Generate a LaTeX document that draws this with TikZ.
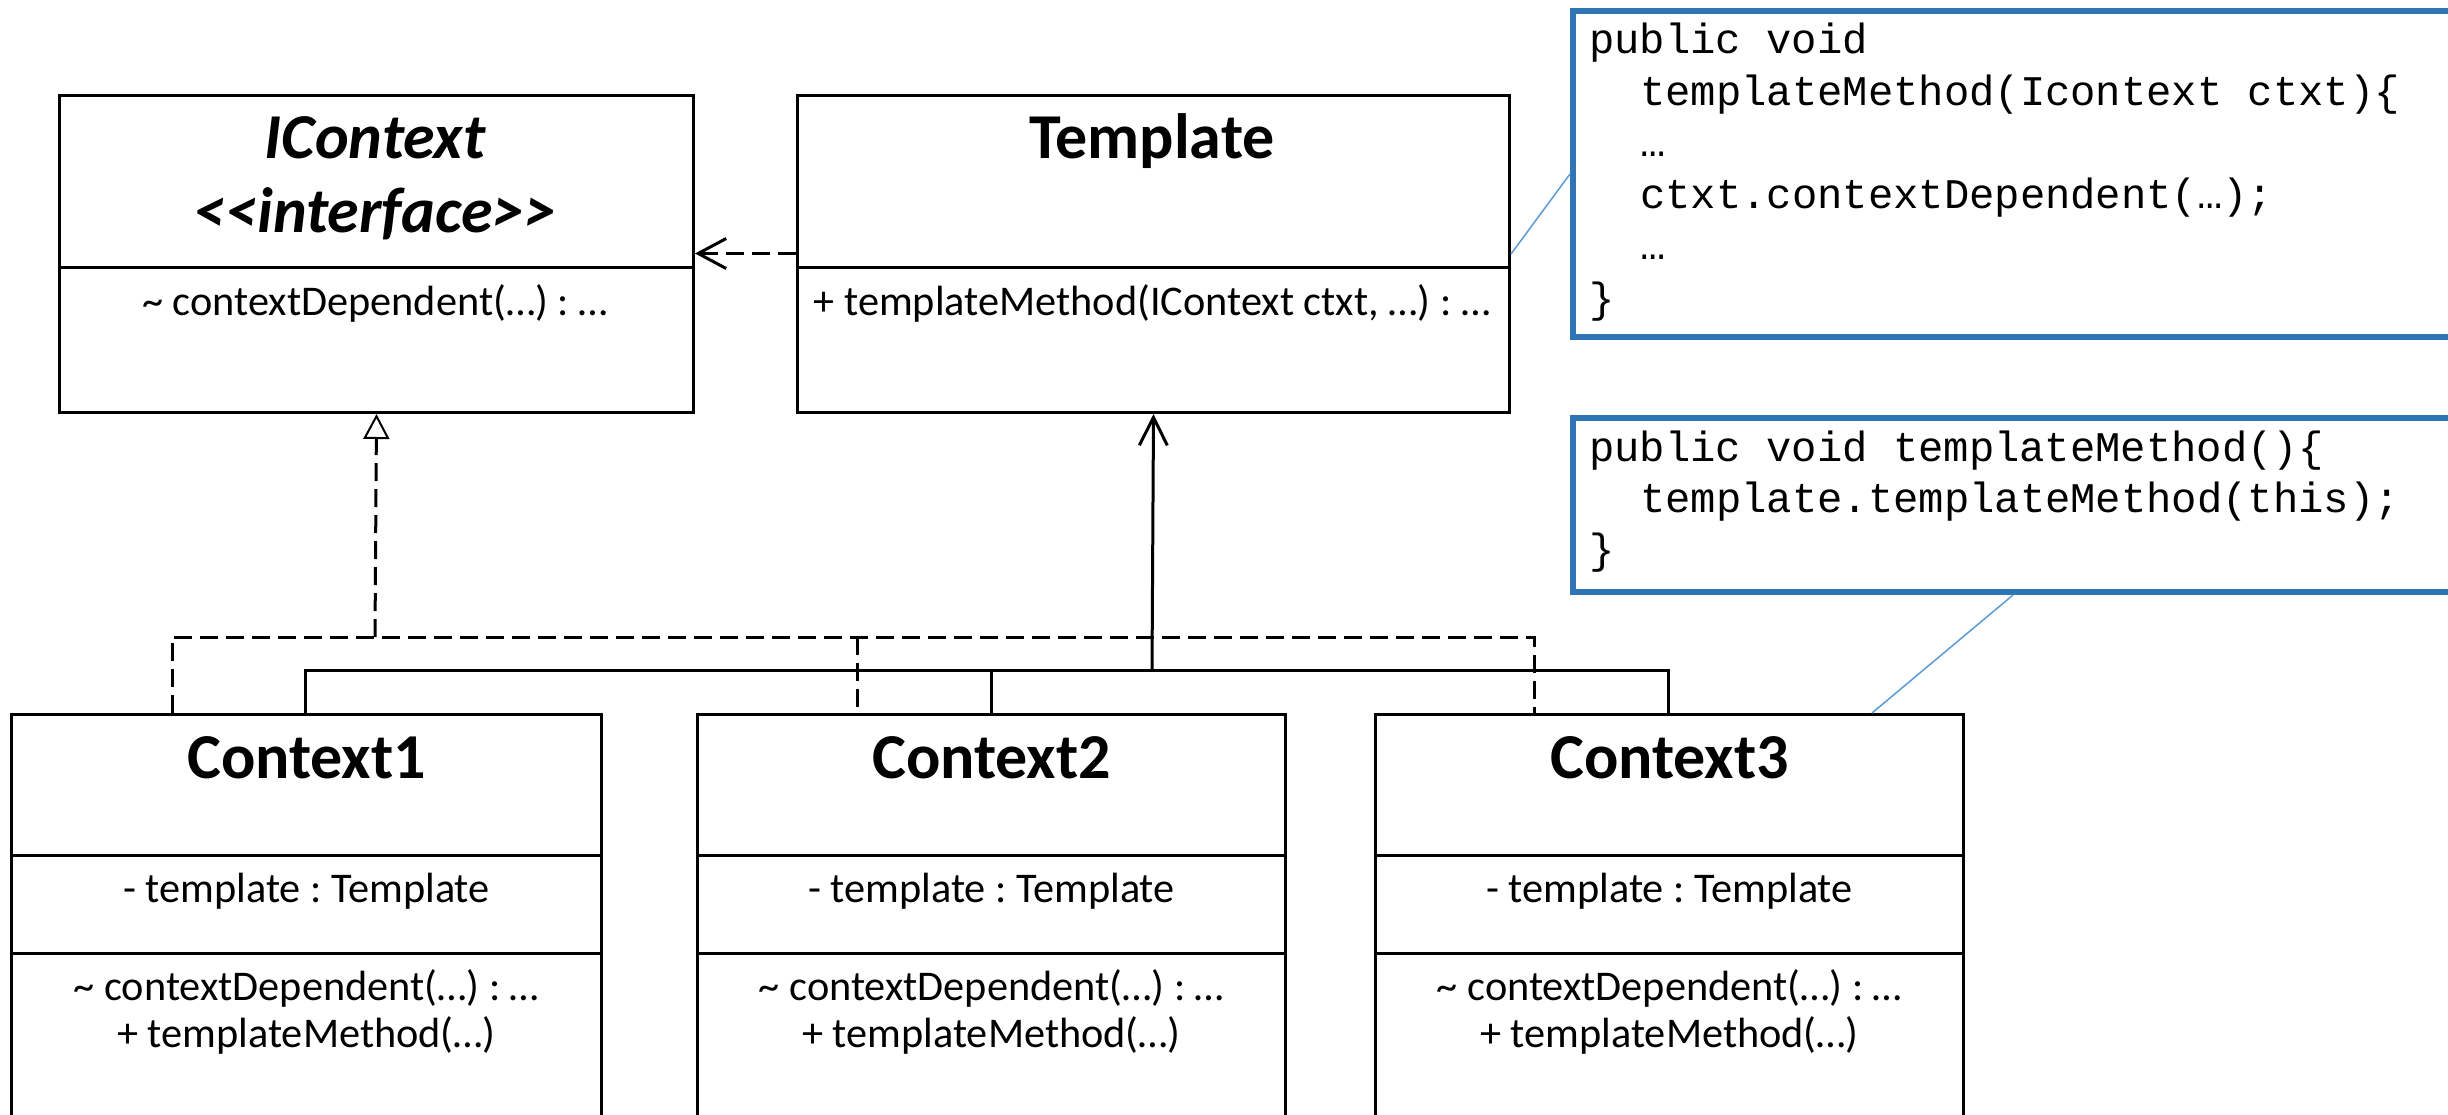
\documentclass[tikz,border=0pt]{standalone}
\usepackage{fontspec}
\setmainfont{Carlito}
\newfontfamily\codefont{Liberation Mono}
\usetikzlibrary{arrows.meta}
\definecolor{boxblue}{HTML}{2E75B6}
\definecolor{callblue}{HTML}{5B9BD5}
\frenchspacing
\begin{document}
\begin{tikzpicture}[x=1pt,y=-1pt,
  box/.style={draw, line width=3pt, rectangle, inner sep=0pt, anchor=north west},
  titletext/.style={anchor=base, inner sep=0pt, font=\fontsize{64}{72}\selectfont\bfseries},
  member/.style={anchor=base, inner sep=0pt, font=\fontsize{42.3}{48}\selectfont},
  codeline/.style={anchor=base west, inner sep=0pt, font=\fontsize{42.2}{50}\selectfont\codefont},
  codebox/.style={draw=boxblue, line width=6pt, rectangle, inner sep=0pt, anchor=north west, fill=white},
  callout/.style={draw=callblue, line width=1.5pt},
  conn/.style={line width=3pt},
  dashconn/.style={dash pattern=on 18pt off 8pt},
]
\clip (0,0) rectangle (2448,1115);
\fill[white] (0,0) rectangle (2448,1115);

% class boxes
\node[box, minimum width=634pt, minimum height=317pt] (ic) at (58,94) {};
\node[box, minimum width=712pt, minimum height=317pt] (tpl) at (796,94) {};
\draw[conn] (ic.west |- 0,268) -- (ic.east |- 0,268);
\draw[conn] (tpl.west |- 0,268) -- (tpl.east |- 0,268);

\node[titletext, font=\fontsize{64}{72}\selectfont\bfseries\itshape] (ict) at (375,159) {IContext};
\node[titletext, font=\fontsize{64}{72}\selectfont\bfseries\itshape] (ici) at (375,233) {<\kern0pt<interface>\kern0pt>};
\node[member] (icm) at (375,315) {\textasciitilde{} contextDependent(…) : …};
\node[titletext] (tplt) at (1152,159) {Template};
\node[member] (tplm) at (1152,315) {+ templateMethod(IContext ctxt, …) : …};

% context boxes
\node[box, minimum width=590pt, minimum height=450pt] (c1) at (10,713) {};
\node[box, minimum width=588pt, minimum height=450pt] (c2) at (696,713) {};
\node[box, minimum width=588pt, minimum height=450pt] (c3) at (1374,713) {};
\foreach \c in {c1,c2,c3}{
  \draw[conn] (\c.west |- 0,855) -- (\c.east |- 0,855);
  \draw[conn] (\c.west |- 0,953) -- (\c.east |- 0,953);
}
\foreach \c/\n in {c1/1,c2/2,c3/3}{
  \node[titletext] (\c t) at (\c.north |- 0,778) {Context\n};
  \node[member] (\c a) at (\c.north |- 0,902) {- template : Template};
  \node[member] (\c m) at (\c.north |- 0,1000) {\textasciitilde{} contextDependent(…) : …};
  \node[member] (\c n) at (\c.north |- 0,1047) {+ templateMethod(…)};
}

% dependency
\draw[conn, dashconn, -{Straight Barb[length=28pt,width=30pt]}] (tpl.west) ++(0,-0.5) coordinate (dep) (dep) -- (ic.east |- dep);

% realization (dashed)
\coordinate (r1) at (172,637);
\coordinate (r2) at (857,637);
\coordinate (r3) at (1534,637);
\coordinate (rr) at (375,637);
\draw[conn, dashconn] (r1 |- c1.north) -- (r1) -- (r3) -- (r3 |- c3.north);
\draw[conn, dashconn] (r2) -- (r2 |- c2.north);
\draw[conn, dashconn, -{Triangle[open, length=25pt, width=26pt, line width=2pt]}] (rr) -- (ic.south);

% generalization/association (solid)
\coordinate (g1) at (305,670);
\coordinate (g3) at (1668,670);
\coordinate (gg) at (1152,670);
\draw[conn] (g1 |- c1.north) -- (g1) -- (g3) -- (g3 |- c3.north);
\draw[conn] (c2.north |- gg) -- (c2.north);
\draw[conn, -{Straight Barb[length=28pt,width=28pt]}] (gg) -- (tpl.south);

% code boxes
\node[codebox, minimum width=880pt, minimum height=326pt] (cb1) at (1570,8) {};
\node[codebox, minimum width=880pt, minimum height=174pt] (cb2) at (1570,415) {};
\node[codeline] (k1) at (1589,54) {public void};
\node[codeline] (k2) at (1640,106) {templateMethod(Icontext ctxt)\{};
\node[codeline] (k3) at (1640,157) {…};
\node[codeline] (k4) at (1640,209) {ctxt.contextDependent(…);};
\node[codeline] (k5) at (1640,260) {…};
\node[codeline] (k6) at (1589,312) {\}};
\node[codeline] (m1) at (1589,461) {public void templateMethod()\{};
\node[codeline] (m2) at (1640,512) {template.templateMethod(this);};
\node[codeline] (m3) at (1589,563) {\}};

% callouts
\draw[callout] (tpl.east) -- (cb1.west);
\draw[callout] (cb2.south) -- (c3.north -| 1872,0);
\end{tikzpicture}
\end{document}
